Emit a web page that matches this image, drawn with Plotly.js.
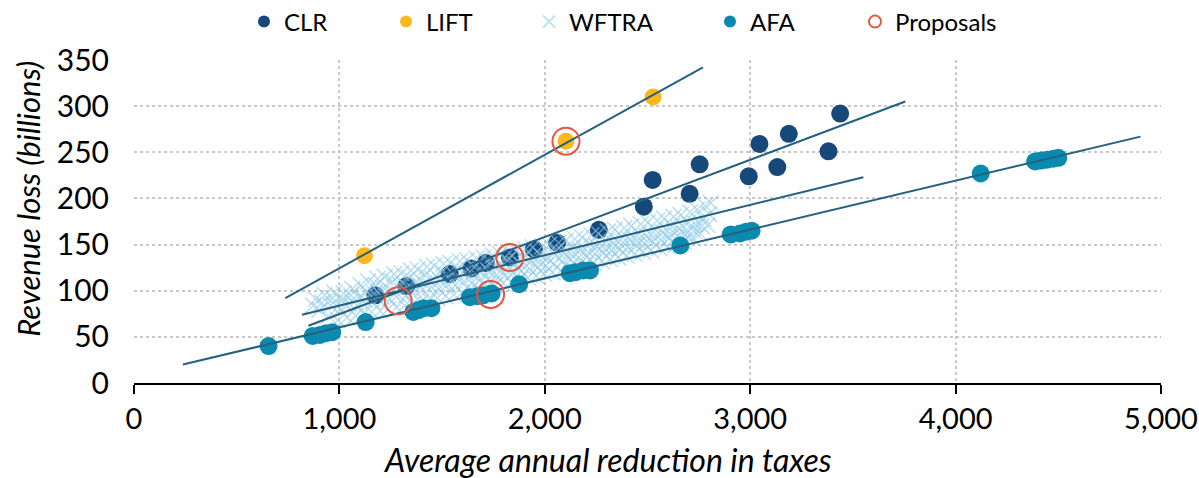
<!DOCTYPE html>
<html>
<head>
<meta charset="utf-8">
<script src="https://cdn.plot.ly/plotly-3.0.1.min.js"></script>
<style>
html,body{margin:0;padding:0;background:#fff;}
#chart{width:1199px;height:478px;}
</style>
</head>
<body>
<div id="chart"></div>
<script>
// ---- Data ----
const clrX = [1175, 1326, 1537, 1643, 1713, 1830, 1947, 2060, 2263, 2482, 2525, 2705, 2754, 2993, 3045, 3132, 3188, 3381, 3438];
const clrY = [95, 105, 118, 124, 130, 136, 145, 152, 166, 191, 220, 205, 237, 224, 259, 234, 270, 251, 292];

const liftX = [1122, 2103, 2527];
const liftY = [138, 262, 310];

const afaX = [655, 870, 905, 935, 965, 1128, 1360, 1385, 1410, 1448, 1635, 1670, 1700, 1741, 1875, 2122, 2150, 2187, 2220, 2660, 2905, 2950, 2980, 3007, 4122, 4387, 4415, 4445, 4475, 4500];
const afaY = [40, 51, 52, 54, 55, 66, 77, 79, 81, 81, 93, 94, 95, 97, 107, 119, 120, 122, 122, 149, 161, 162, 164, 165, 227, 240, 241, 242, 243, 244];

const propX = [1286, 1736, 1830, 2103];
const propY = [89, 96, 136, 262];

const wftraX = [872,885,903,915,928,947,958,966,975,992,1004,1013,1021,1038,1046,1055,1063,1079,1087,1096,1103,1118,1124,1133,1140,
1157,1163,1171,1178,1186,1198,1206,1213,1221,1237,1244,1251,1259,1266,1279,1286,1294,1302,1318,1325,1331,1340,1347,1359,1366,1374,1381,
1397,1403,1411,1419,1426,1438,1446,1453,1461,1477,1484,1491,1499,1506,1518,1526,1533,1541,1557,1563,1571,1578,1586,1598,1605,1612,1621,
1637,1644,1651,1659,1667,1678,1686,1693,1701,1717,1724,1731,1739,1746,1757,1765,1772,1781,1797,1804,1812,1819,1827,1838,1845,1853,1861,
1877,1884,1891,1899,1906,1918,1925,1933,1941,1957,1964,1971,1979,1987,1998,2005,2013,2021,2037,2044,2052,2059,2067,2078,2085,2093,2101,
2117,2124,2131,2139,2146,2158,2165,2173,2181,2197,2204,2212,2219,2227,2238,2245,2253,2261,2277,2284,2291,2299,2307,2318,2325,2333,2341,
2357,2364,2371,2379,2387,2398,2405,2413,2421,2437,2444,2451,2459,2467,2478,2485,2493,2501,2517,2524,2531,2539,2547,2558,2565,2573,2581,
2597,2604,2611,2619,2627,2638,2645,2653,2661,2677,2684,2691,2699,2707,2718,2725,2733,2741,2757,2764,2772,2780,2792,2800,2808];
const wftraY = [84,91,79,87,95,72,84,92,98,68,80,89,97,71,86,95,102,73,84,93,106,75,90,99,110,
77,88,97,106,113,78,94,103,115,80,91,100,110,118,82,96,107,119,84,95,104,114,122,86,100,110,123,
88,101,108,117,126,90,104,113,127,92,102,111,121,129,94,107,116,130,96,106,114,124,132,98,110,120,133,
100,108,117,126,135,102,113,122,136,104,112,120,130,138,106,117,126,140,108,116,123,133,141,110,120,129,143,
112,121,127,136,145,114,124,132,147,116,125,131,139,148,118,127,135,150,120,129,138,144,152,122,132,141,154,
124,134,139,147,156,126,136,144,158,128,137,142,151,160,130,140,148,162,132,141,146,154,164,134,144,151,166,
136,145,150,158,168,138,147,155,170,140,149,154,162,172,142,151,159,174,144,153,158,166,176,146,155,163,178,
148,157,162,170,180,150,159,167,182,153,161,166,174,185,157,165,172,188,162,170,178,192,171,183,195];

// Trend lines (end points)
const trendLiftX = [737, 2770],  trendLiftY = [92, 342];
const trendClrX = [849, 3755],   trendClrY = [62, 305];
const trendWftraX = [818, 3551], trendWftraY = [74, 223];
const trendAfaX = [238, 4900],   trendAfaY = [20, 267];

const xTicks = [0, 1000, 2000, 3000, 4000, 5000];
const xTickText = ['0', '1,000', '2,000', '3,000', '4,000', '5,000'];
const yTicks = [0, 50, 100, 150, 200, 250, 300, 350];

const C_CLR = '#17487a', C_LIFT = '#fbb81b', C_WFTRA = '#8ccbe8', C_AFA = '#0b8ab0', C_PROP = '#e8553f', C_LINE = '#24607f';
const FONT = 'Lato, "Open Sans", sans-serif';

// legend item text start positions (px, container)
const legendTextLeft = [284, 426, 569, 750, 895];

function trend(x, y) {
  return {x: x, y: y, mode: 'lines', type: 'scatter', showlegend: false, hoverinfo: 'skip',
          line: {color: C_LINE, width: 2}};
}

const traces = [
  {name: 'CLR', legend: 'legend', x: clrX, y: clrY, mode: 'markers', type: 'scatter',
   marker: {color: C_CLR, size: 18, symbol: 'circle'}},
  {name: 'LIFT', legend: 'legend2', x: liftX, y: liftY, mode: 'markers', type: 'scatter',
   marker: {color: C_LIFT, size: 17, symbol: 'circle'}},
  {name: 'WFTRA', legend: 'legend3', x: wftraX, y: wftraY, mode: 'markers', type: 'scatter',
   marker: {color: C_WFTRA, size: 16, symbol: 'x-thin', opacity: 0.6, line: {color: C_WFTRA, width: 1.5}}},
  {name: 'AFA', legend: 'legend4', x: afaX, y: afaY, mode: 'markers', type: 'scatter',
   marker: {color: C_AFA, size: 18, symbol: 'circle'}},
  trend(trendLiftX, trendLiftY),
  trend(trendClrX, trendClrY),
  trend(trendWftraX, trendWftraY),
  trend(trendAfaX, trendAfaY),
  {name: 'Proposals', legend: 'legend5', x: propX, y: propY, mode: 'markers', type: 'scatter',
   marker: {color: C_PROP, size: 27, symbol: 'circle-open', line: {color: C_PROP, width: 2}}}
];

function leg(i) {
  return {orientation: 'h', xref: 'container', yref: 'container',
          x: (legendTextLeft[i] - 40) / 1199, xanchor: 'left', y: 1 - 22 / 478, yanchor: 'middle',
          font: {family: FONT, size: 24, color: '#000'}, itemsizing: 'constant', bgcolor: 'rgba(0,0,0,0)',
          borderwidth: 0};
}

const layout = {
  width: 1199, height: 478,
  margin: {l: 134, r: 38, t: 60, b: 95, autoexpand: false},
  paper_bgcolor: '#fff', plot_bgcolor: '#fff',
  font: {family: FONT, color: '#000', size: 30},
  showlegend: true,
  legend: leg(0), legend2: leg(1), legend3: leg(2), legend4: leg(3), legend5: leg(4),
  xaxis: {range: [0, 5000], tickvals: xTicks, ticktext: xTickText, showgrid: true,
          gridcolor: '#c9c9c9', griddash: 'dot', gridwidth: 2, zeroline: false,
          showline: true, linecolor: '#000', linewidth: 2, ticks: 'outside', ticklen: 9, tickwidth: 2, tickcolor: '#000',
          ticklabeloverflow: 'allow',
          tickfont: {family: FONT, size: 29, color: '#000'}, fixedrange: true, automargin: false},
  yaxis: {range: [0, 350], tickvals: yTicks, showgrid: true, gridcolor: '#c9c9c9', griddash: 'dot', gridwidth: 2,
          zeroline: false, showline: false, ticks: '', ticklabelstandoff: 24,
          tickfont: {family: FONT, size: 30, color: '#000'}, fixedrange: true, automargin: false},
  annotations: [
    {text: '<i>Average annual reduction in taxes</i>', xref: 'paper', yref: 'paper', x: 0.4606, y: -0.238,
     xanchor: 'center', yanchor: 'middle', showarrow: false, font: {family: FONT, size: 32, color: '#000'}},
    {text: '<i>Revenue loss (billions)</i>', xref: 'paper', yref: 'paper', x: -0.104, y: 0.571, textangle: -90,
     xanchor: 'center', yanchor: 'middle', showarrow: false, font: {family: FONT, size: 31, color: '#000'}}
  ]
};

Plotly.newPlot('chart', traces, layout, {displayModeBar: false, staticPlot: true});
</script>
</body>
</html>
